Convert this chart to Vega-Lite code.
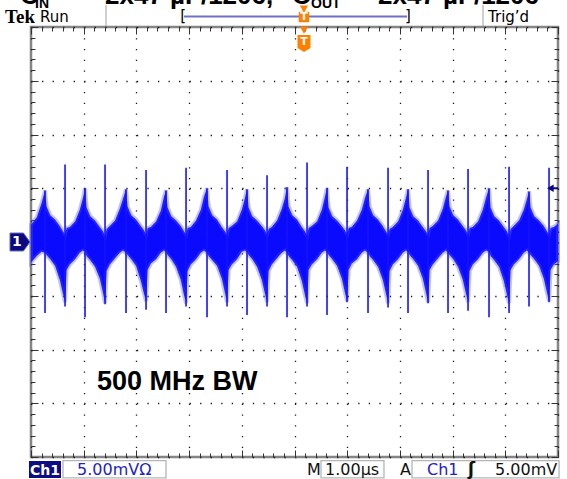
{
"$schema": "https://vega.github.io/schema/vega-lite/v6.json",
"width": 527, "height": 430,
"autosize": "none",
"padding": {"left": 31, "top": 27, "right": 9, "bottom": 22},
"background": "white",
"config": {"view": {"stroke": "#858585", "strokeWidth": 2.5}, "axis": {"title": null, "labels": false, "domain": false}},
"resolve": {"axis": {"x": "independent", "y": "independent"}},
"layer": [
{
"data": {"values": [
{"t":0,"h":1.6,"l":-1.9},{"t":0.11,"h":2.3,"l":-1.3},{"t":0.2,"h":3.6,"l":-0.9},
{"t":0.266,"h":4.8,"l":-1.0},{"t":0.296,"h":3.3,"l":-1.2},{"t":0.366,"h":2.5,"l":-1.6},{"t":0.456,"h":2.1,"l":-2.2},{"t":0.546,"h":1.5,"l":-3.5},{"t":0.606,"h":1.0,"l":-4.8},{"t":0.646,"h":0.7,"l":-5.6},{"t":0.676,"h":1.3,"l":-2.6},{"t":0.736,"h":1.4,"l":-2.1},{"t":0.836,"h":1.9,"l":-1.6},{"t":0.926,"h":3.0,"l":-1.0},{"t":0.986,"h":4.1,"l":-0.8},
{"t":1.025,"h":5.0,"l":-0.9},{"t":1.055,"h":3.2,"l":-1.3},{"t":1.125,"h":2.4,"l":-1.7},{"t":1.215,"h":2.0,"l":-2.3},{"t":1.305,"h":1.4,"l":-3.4},{"t":1.365,"h":1.0,"l":-4.7},{"t":1.405,"h":0.6,"l":-5.7},{"t":1.435,"h":1.2,"l":-2.7},{"t":1.495,"h":1.5,"l":-2.1},{"t":1.595,"h":2.0,"l":-1.5},{"t":1.685,"h":3.1,"l":-1.0},{"t":1.745,"h":4.0,"l":-0.8},
{"t":1.803,"h":4.9,"l":-1.0},{"t":1.833,"h":3.3,"l":-1.2},{"t":1.903,"h":2.5,"l":-1.6},{"t":1.993,"h":2.1,"l":-2.2},{"t":2.083,"h":1.5,"l":-3.6},{"t":2.143,"h":1.1,"l":-4.8},{"t":2.183,"h":0.7,"l":-5.5},{"t":2.213,"h":1.3,"l":-2.6},{"t":2.273,"h":1.4,"l":-2.0},{"t":2.373,"h":1.9,"l":-1.6},{"t":2.463,"h":2.9,"l":-1.0},{"t":2.523,"h":4.2,"l":-0.8},
{"t":2.562,"h":4.8,"l":-0.9},{"t":2.592,"h":3.2,"l":-1.2},{"t":2.662,"h":2.4,"l":-1.6},{"t":2.752,"h":2.0,"l":-2.3},{"t":2.842,"h":1.5,"l":-3.5},{"t":2.902,"h":1.0,"l":-4.9},{"t":2.942,"h":0.7,"l":-5.7},{"t":2.972,"h":1.3,"l":-2.7},{"t":3.032,"h":1.4,"l":-2.1},{"t":3.132,"h":2.0,"l":-1.6},{"t":3.222,"h":3.0,"l":-1.0},{"t":3.282,"h":4.2,"l":-0.8},
{"t":3.34,"h":5.0,"l":-1.0},{"t":3.37,"h":3.3,"l":-1.3},{"t":3.44,"h":2.5,"l":-1.7},{"t":3.53,"h":2.1,"l":-2.2},{"t":3.62,"h":1.4,"l":-3.4},{"t":3.68,"h":1.0,"l":-4.7},{"t":3.72,"h":0.7,"l":-5.6},{"t":3.75,"h":1.3,"l":-2.6},{"t":3.81,"h":1.5,"l":-2.1},{"t":3.91,"h":1.9,"l":-1.6},{"t":4.0,"h":3.0,"l":-0.9},{"t":4.06,"h":4.1,"l":-0.8},
{"t":4.099,"h":4.9,"l":-0.9},{"t":4.129,"h":3.2,"l":-1.2},{"t":4.199,"h":2.4,"l":-1.6},{"t":4.289,"h":2.0,"l":-2.3},{"t":4.379,"h":1.5,"l":-3.5},{"t":4.439,"h":1.1,"l":-4.8},{"t":4.479,"h":0.7,"l":-5.6},{"t":4.509,"h":1.2,"l":-2.7},{"t":4.569,"h":1.4,"l":-2.1},{"t":4.669,"h":2.0,"l":-1.5},{"t":4.759,"h":3.1,"l":-1.0},{"t":4.819,"h":4.1,"l":-0.8},
{"t":4.858,"h":5.1,"l":-1.0},{"t":4.888,"h":3.3,"l":-1.3},{"t":4.958,"h":2.5,"l":-1.7},{"t":5.048,"h":2.1,"l":-2.3},{"t":5.138,"h":1.4,"l":-3.6},{"t":5.198,"h":1.0,"l":-4.9},{"t":5.238,"h":0.6,"l":-5.7},{"t":5.268,"h":1.3,"l":-2.6},{"t":5.328,"h":1.5,"l":-2.1},{"t":5.428,"h":1.9,"l":-1.6},{"t":5.518,"h":3.0,"l":-1.0},{"t":5.578,"h":4.2,"l":-0.8},
{"t":5.617,"h":5.0,"l":-0.9},{"t":5.647,"h":3.2,"l":-1.2},{"t":5.717,"h":2.4,"l":-1.6},{"t":5.807,"h":2.0,"l":-2.2},{"t":5.897,"h":1.5,"l":-3.4},{"t":5.957,"h":1.1,"l":-4.7},{"t":5.997,"h":0.7,"l":-5.5},{"t":6.027,"h":1.3,"l":-2.6},{"t":6.087,"h":1.4,"l":-2.0},{"t":6.187,"h":2.0,"l":-1.6},{"t":6.277,"h":3.0,"l":-1.0},{"t":6.337,"h":4.1,"l":-0.8},
{"t":6.395,"h":4.9,"l":-1.0},{"t":6.425,"h":3.3,"l":-1.3},{"t":6.495,"h":2.5,"l":-1.7},{"t":6.585,"h":2.1,"l":-2.3},{"t":6.675,"h":1.5,"l":-3.5},{"t":6.735,"h":1.0,"l":-4.8},{"t":6.775,"h":0.7,"l":-5.7},{"t":6.805,"h":1.2,"l":-2.7},{"t":6.865,"h":1.4,"l":-2.1},{"t":6.965,"h":1.9,"l":-1.6},{"t":7.055,"h":3.0,"l":-1.0},{"t":7.115,"h":4.1,"l":-0.8},
{"t":7.154,"h":4.9,"l":-0.9},{"t":7.184,"h":3.2,"l":-1.2},{"t":7.254,"h":2.4,"l":-1.6},{"t":7.344,"h":2.0,"l":-2.2},{"t":7.434,"h":1.4,"l":-3.4},{"t":7.494,"h":1.0,"l":-4.7},{"t":7.534,"h":0.7,"l":-5.6},{"t":7.564,"h":1.3,"l":-2.6},{"t":7.624,"h":1.5,"l":-2.1},{"t":7.724,"h":2.0,"l":-1.5},{"t":7.814,"h":3.1,"l":-1.0},{"t":7.874,"h":4.2,"l":-0.8},
{"t":7.913,"h":4.8,"l":-1.0},{"t":7.943,"h":3.3,"l":-1.2},{"t":8.013,"h":2.5,"l":-1.6},{"t":8.103,"h":2.1,"l":-2.3},{"t":8.193,"h":1.5,"l":-3.5},{"t":8.253,"h":1.1,"l":-4.8},{"t":8.293,"h":0.7,"l":-5.6},{"t":8.323,"h":1.3,"l":-2.7},{"t":8.383,"h":1.4,"l":-2.1},{"t":8.483,"h":1.9,"l":-1.6},{"t":8.573,"h":3.0,"l":-1.0},{"t":8.633,"h":4.1,"l":-0.8},
{"t":8.691,"h":5.0,"l":-0.9},{"t":8.721,"h":3.2,"l":-1.3},{"t":8.791,"h":2.4,"l":-1.7},{"t":8.881,"h":2.0,"l":-2.3},{"t":8.971,"h":1.4,"l":-3.6},{"t":9.031,"h":1.0,"l":-4.9},{"t":9.071,"h":0.6,"l":-5.7},{"t":9.101,"h":1.2,"l":-2.6},{"t":9.161,"h":1.5,"l":-2.1},{"t":9.261,"h":2.0,"l":-1.6},{"t":9.351,"h":3.0,"l":-1.0},{"t":9.411,"h":4.0,"l":-0.8},
{"t":9.45,"h":4.7,"l":-1.0},{"t":9.48,"h":3.2,"l":-1.2},{"t":9.55,"h":2.4,"l":-1.6},{"t":9.64,"h":2.0,"l":-2.2},{"t":9.73,"h":1.5,"l":-3.4},{"t":9.79,"h":1.0,"l":-4.7},{"t":9.83,"h":0.7,"l":-5.5},{"t":9.86,"h":1.3,"l":-2.6},{"t":9.92,"h":1.4,"l":-2.1},{"t":10.0,"h":1.7,"l":-1.8}
]},
"mark": {"type": "area", "fill": "#0a0aff", "stroke": "#5050ff", "strokeWidth": 4, "strokeOpacity": 0.35},
"encoding": {
"x": {"field": "t", "type": "quantitative", "scale": {"domain": [0, 10], "nice": false}, "axis": {"orient": "bottom", "values": [0,1,2,3,4,5,6,7,8,9,10], "grid": true, "gridDash": [1.3, 9.45], "gridColor": "#1a1a1a", "gridWidth": 1.3, "gridOpacity": 1, "ticks": false, "labels": false, "domain": false, "title": null}},
"y": {"field": "h", "type": "quantitative", "scale": {"domain": [-20, 20], "nice": false}, "axis": {"orient": "left", "values": [-20,-15,-10,-5,0,5,10,15,20], "grid": true, "gridDash": [1.3, 9.24], "gridColor": "#1a1a1a", "gridWidth": 1.3, "gridOpacity": 1, "ticks": false, "labels": false, "domain": false, "title": null}},
"y2": {"field": "l"}
}
},
{
"data": {"values": [
{"t":0.266,"v":4.8,"w":-6.6},{"t":1.025,"v":5.0,"w":-7.0},{"t":1.803,"v":4.9,"w":-6.6},{"t":2.562,"v":4.8,"w":-6.6},{"t":3.34,"v":5.0,"w":-7.0},{"t":4.099,"v":4.9,"w":-6.8},{"t":4.858,"v":5.1,"w":-7.0},{"t":5.617,"v":5.0,"w":-6.8},{"t":6.395,"v":4.9,"w":-6.6},{"t":7.154,"v":4.9,"w":-6.6},{"t":7.913,"v":4.8,"w":-6.6},{"t":8.691,"v":5.0,"w":-7.0},{"t":9.45,"v":4.7,"w":-6.0},
{"t":0.646,"v":7.2,"w":-6.0},{"t":1.405,"v":7.2,"w":-5.8},{"t":2.183,"v":6.7,"w":-6.3},{"t":2.942,"v":6.9,"w":-6.0},{"t":3.72,"v":6.7,"w":-6.0},{"t":4.479,"v":6.2,"w":-6.0},{"t":5.238,"v":7.4,"w":-6.0},{"t":5.997,"v":7.0,"w":-5.6},{"t":6.775,"v":6.9,"w":-6.1},{"t":7.534,"v":6.7,"w":-5.7},{"t":8.293,"v":6.8,"w":-6.4},{"t":9.071,"v":7.0,"w":-6.6},{"t":9.83,"v":6.9,"w":-5.6}
]},
"mark": {"type": "rule", "color": "#1414ff", "strokeWidth": 1.6},
"encoding": {
"x": {"field": "t", "type": "quantitative", "scale": {"domain": [0, 10], "nice": false}, "axis": {"orient": "top", "tickCount": 50, "offset": -4, "tickSize": 4, "tickColor": "#333", "tickWidth": 1, "grid": false, "labels": false, "domain": false, "title": null}},
"y": {"field": "v", "type": "quantitative", "scale": {"domain": [-20, 20], "nice": false}, "axis": {"orient": "right", "tickCount": 40, "offset": -4, "tickSize": 4, "tickColor": "#333", "tickWidth": 1, "grid": false, "labels": false, "domain": false, "title": null}},
"y2": {"field": "w"}
}
},
{
"data": {"values": [{"t":-0.209,"v":22.15,"s":"C"},{"t":1.404,"v":22.15,"s":"2x47 µF/1206,"},{"t":4.953,"v":22.15,"s":"C"},{"t":6.584,"v":22.15,"s":"2x47 µF/1206"}]},
"mark": {"type": "text", "align": "left", "baseline": "alphabetic", "font": "Liberation Sans", "fontWeight": "bold", "fontSize": 26, "color": "#000"},
"encoding": {
"x": {"field": "t", "type": "quantitative", "scale": {"domain": [0, 10], "nice": false}, "axis": {"orient": "bottom", "tickCount": 50, "offset": -4, "tickSize": 4, "tickColor": "#333", "tickWidth": 1, "grid": false, "labels": false, "domain": false, "title": null}},
"y": {"field": "v", "type": "quantitative", "scale": {"domain": [-20, 20], "nice": false}, "axis": {"orient": "left", "tickCount": 40, "offset": -4, "tickSize": 4, "tickColor": "#333", "tickWidth": 1, "grid": false, "labels": false, "domain": false, "title": null}},
"text": {"field": "s"}
}
},
{
"data": {"values": [{"t":0.076,"v":21.75,"s":"IN"},{"t":5.313,"v":21.75,"s":"OUT"}]},
"mark": {"type": "text", "align": "left", "baseline": "alphabetic", "font": "Liberation Sans", "fontWeight": "bold", "fontSize": 14, "color": "#000"},
"encoding": {
"x": {"field": "t", "type": "quantitative", "scale": {"domain": [0, 10], "nice": false}, "axis": {"orient": "top", "tickCount": 10, "offset": -7, "tickSize": 7, "tickColor": "#333", "tickWidth": 1, "grid": false, "labels": false, "domain": false, "title": null}},
"y": {"field": "v", "type": "quantitative", "scale": {"domain": [-20, 20], "nice": false}, "axis": {"orient": "right", "tickCount": 8, "offset": -7, "tickSize": 7, "tickColor": "#333", "tickWidth": 1, "grid": false, "labels": false, "domain": false, "title": null}},
"text": {"field": "s"}
}
},
{
"data": {"values": [{"t":-0.493,"v":20.37,"s":"Tek"}]},
"mark": {"type": "text", "align": "left", "baseline": "alphabetic", "font": "Liberation Serif", "fontWeight": "bold", "fontSize": 19, "color": "#000"},
"encoding": {
"x": {"field": "t", "type": "quantitative", "scale": {"domain": [0, 10], "nice": false}, "axis": {"orient": "bottom", "tickCount": 10, "offset": -7, "tickSize": 7, "tickColor": "#333", "tickWidth": 1, "grid": false, "labels": false, "domain": false, "title": null}},
"y": {"field": "v", "type": "quantitative", "scale": {"domain": [-20, 20], "nice": false}, "axis": {"orient": "left", "tickCount": 8, "offset": -7, "tickSize": 7, "tickColor": "#333", "tickWidth": 1, "grid": false, "labels": false, "domain": false, "title": null}},
"text": {"field": "s"}
}
},
{
"data": {"values": [{"t":0.171,"v":20.47,"s":"Run"},{"t":8.672,"v":20.47,"s":"Trig’d"}]},
"mark": {"type": "text", "align": "left", "baseline": "alphabetic", "font": "DejaVu Sans", "fontSize": 15, "color": "#000"},
"encoding": {
"x": {"field": "t", "type": "quantitative", "scale": {"domain": [0, 10], "nice": false}, "axis": null},
"y": {"field": "v", "type": "quantitative", "scale": {"domain": [-20, 20], "nice": false}, "axis": null},
"text": {"field": "s"}
}
},
{
"data": {"values": [{"t":1.423,"v":22.05,"w":20.09},{"t":8.577,"v":22.05,"w":20.09}]},
"mark": {"type": "rule", "color": "#a0a0a0", "strokeWidth": 1},
"encoding": {
"x": {"field": "t", "type": "quantitative", "scale": {"domain": [0, 10], "nice": false}, "axis": null},
"y": {"field": "v", "type": "quantitative", "scale": {"domain": [-20, 20], "nice": false}, "axis": null},
"y2": {"field": "w"}
}
},
{
"data": {"values": [{"t":2.903,"u":7.135,"v":20.98}]},
"mark": {"type": "rule", "color": "#7070c8", "strokeWidth": 2},
"encoding": {
"x": {"field": "t", "type": "quantitative", "scale": {"domain": [0, 10], "nice": false}, "axis": null},
"x2": {"field": "u"},
"y": {"field": "v", "type": "quantitative", "scale": {"domain": [-20, 20], "nice": false}, "axis": null}
}
},
{
"data": {"values": [{"t":2.83,"v":20.56,"s":"["},{"t":7.097,"v":20.56,"s":"]"}]},
"mark": {"type": "text", "align": "left", "baseline": "alphabetic", "font": "DejaVu Sans", "fontSize": 15, "color": "#000"},
"encoding": {
"x": {"field": "t", "type": "quantitative", "scale": {"domain": [0, 10], "nice": false}, "axis": null},
"y": {"field": "v", "type": "quantitative", "scale": {"domain": [-20, 20], "nice": false}, "axis": null},
"text": {"field": "s"}
}
},
{
"data": {"values": [{"t":5.18,"v":21.67},{"t":5.18,"v":19.72}]},
"mark": {"type": "point", "shape": "triangle-down", "filled": true, "color": "#ff8000", "size": 70, "opacity": 1},
"encoding": {
"x": {"field": "t", "type": "quantitative", "scale": {"domain": [0, 10], "nice": false}, "axis": null},
"y": {"field": "v", "type": "quantitative", "scale": {"domain": [-20, 20], "nice": false}, "axis": null}
}
},
{
"data": {"values": [{"t":5.18,"v":18.47}]},
"mark": {"type": "point", "shape": "M-1,-1.3 L1,-1.3 L1,0.7 L0,1.3 L-1,0.7 Z", "filled": true, "color": "#ff8000", "size": 169, "opacity": 1},
"encoding": {
"x": {"field": "t", "type": "quantitative", "scale": {"domain": [0, 10], "nice": false}, "axis": null},
"y": {"field": "v", "type": "quantitative", "scale": {"domain": [-20, 20], "nice": false}, "axis": null}
}
},
{
"data": {"values": [{"t":5.18,"v":20.93}]},
"mark": {"type": "point", "shape": "square", "filled": true, "color": "#ff8000", "size": 110, "opacity": 1},
"encoding": {
"x": {"field": "t", "type": "quantitative", "scale": {"domain": [0, 10], "nice": false}, "axis": null},
"y": {"field": "v", "type": "quantitative", "scale": {"domain": [-20, 20], "nice": false}, "axis": null}
}
},
{
"data": {"values": [{"t":5.18,"v":18.6,"s":"T"},{"t":5.18,"v":20.93,"s":"T"}]},
"mark": {"type": "text", "align": "center", "baseline": "middle", "font": "DejaVu Sans", "fontWeight": "bold", "fontSize": 11, "color": "#ffffff"},
"encoding": {
"x": {"field": "t", "type": "quantitative", "scale": {"domain": [0, 10], "nice": false}, "axis": null},
"y": {"field": "v", "type": "quantitative", "scale": {"domain": [-20, 20], "nice": false}, "axis": null},
"text": {"field": "s"}
}
},
{
"data": {"values": [{"t":-0.038,"u":0.569,"v":-20.37,"w":-21.95}]},
"mark": {"type": "rect", "color": "#0c0c84"},
"encoding": {
"x": {"field": "t", "type": "quantitative", "scale": {"domain": [0, 10], "nice": false}, "axis": null},
"x2": {"field": "u"},
"y": {"field": "v", "type": "quantitative", "scale": {"domain": [-20, 20], "nice": false}, "axis": null},
"y2": {"field": "w"}
}
},
{
"data": {"values": [{"t":0.607,"u":2.562,"v":-20.33,"w":-21.95},{"t":5.503,"u":6.698,"v":-20.33,"w":-21.95},{"t":7.23,"u":10.02,"v":-20.33,"w":-21.95}]},
"mark": {"type": "rect", "filled": false, "stroke": "#b5b5b5", "strokeWidth": 1.3},
"encoding": {
"x": {"field": "t", "type": "quantitative", "scale": {"domain": [0, 10], "nice": false}, "axis": null},
"x2": {"field": "u"},
"y": {"field": "v", "type": "quantitative", "scale": {"domain": [-20, 20], "nice": false}, "axis": null},
"y2": {"field": "w"}
}
},
{
"data": {"values": [{"t":-0.019,"v":-21.72,"s":"Ch1"}]},
"mark": {"type": "text", "align": "left", "baseline": "alphabetic", "font": "DejaVu Sans", "fontWeight": "bold", "fontSize": 14, "color": "#ffffff"},
"encoding": {
"x": {"field": "t", "type": "quantitative", "scale": {"domain": [0, 10], "nice": false}, "axis": null},
"y": {"field": "v", "type": "quantitative", "scale": {"domain": [-20, 20], "nice": false}, "axis": null},
"text": {"field": "s"}
}
},
{
"data": {"values": [{"t":0.873,"v":-21.72,"s":"5.00mVΩ"},{"t":7.514,"v":-21.72,"s":"Ch1"}]},
"mark": {"type": "text", "align": "left", "baseline": "alphabetic", "font": "DejaVu Sans", "fontSize": 16, "color": "#2323c4"},
"encoding": {
"x": {"field": "t", "type": "quantitative", "scale": {"domain": [0, 10], "nice": false}, "axis": null},
"y": {"field": "v", "type": "quantitative", "scale": {"domain": [-20, 20], "nice": false}, "axis": null},
"text": {"field": "s"}
}
},
{
"data": {"values": [{"t":5.237,"v":-21.72,"s":"M"},{"t":5.579,"v":-21.72,"s":"1.00µs"},{"t":7.002,"v":-21.72,"s":"A"},{"t":8.805,"v":-21.72,"s":"5.00mV"}]},
"mark": {"type": "text", "align": "left", "baseline": "alphabetic", "font": "DejaVu Sans", "fontSize": 16, "color": "#111111"},
"encoding": {
"x": {"field": "t", "type": "quantitative", "scale": {"domain": [0, 10], "nice": false}, "axis": null},
"y": {"field": "v", "type": "quantitative", "scale": {"domain": [-20, 20], "nice": false}, "axis": null},
"text": {"field": "s"}
}
},
{
"data": {"values": [{"t":8.292,"v":-21.72,"s":"ʃ"}]},
"mark": {"type": "text", "align": "left", "baseline": "alphabetic", "font": "DejaVu Sans", "fontWeight": "bold", "fontSize": 17, "color": "#111111"},
"encoding": {
"x": {"field": "t", "type": "quantitative", "scale": {"domain": [0, 10], "nice": false}, "axis": null},
"y": {"field": "v", "type": "quantitative", "scale": {"domain": [-20, 20], "nice": false}, "axis": null},
"text": {"field": "s"}
}
},
{
"data": {"values": [{"t":1.252,"v":-13.77,"s":"500 MHz BW"}]},
"mark": {"type": "text", "align": "left", "baseline": "alphabetic", "font": "Liberation Sans", "fontWeight": "bold", "fontSize": 27, "color": "#000000"},
"encoding": {
"x": {"field": "t", "type": "quantitative", "scale": {"domain": [0, 10], "nice": false}, "axis": null},
"y": {"field": "v", "type": "quantitative", "scale": {"domain": [-20, 20], "nice": false}, "axis": null},
"text": {"field": "s"}
}
},
{
"data": {"values": [{"t":-0.209,"v":0}]},
"mark": {"type": "point", "shape": "M-1,-0.9 L0.35,-0.9 L1,0 L0.35,0.9 L-1,0.9 Z", "filled": true, "fill": "#0a0a80", "stroke": "#6a6ac0", "strokeWidth": 1, "size": 400, "opacity": 1},
"encoding": {
"x": {"field": "t", "type": "quantitative", "scale": {"domain": [0, 10], "nice": false}, "axis": null},
"y": {"field": "v", "type": "quantitative", "scale": {"domain": [-20, 20], "nice": false}, "axis": null}
}
},
{
"data": {"values": [{"t":-0.27,"v":0,"s":"1"}]},
"mark": {"type": "text", "align": "center", "baseline": "middle", "font": "DejaVu Sans", "fontWeight": "bold", "fontSize": 14, "color": "#ffffff"},
"encoding": {
"x": {"field": "t", "type": "quantitative", "scale": {"domain": [0, 10], "nice": false}, "axis": null},
"y": {"field": "v", "type": "quantitative", "scale": {"domain": [-20, 20], "nice": false}, "axis": null},
"text": {"field": "s"}
}
},
{
"data": {"values": [{"t":9.855,"v":5.0}]},
"mark": {"type": "point", "shape": "triangle-left", "filled": true, "color": "#0a0a80", "size": 60, "opacity": 1},
"encoding": {
"x": {"field": "t", "type": "quantitative", "scale": {"domain": [0, 10], "nice": false}, "axis": null},
"y": {"field": "v", "type": "quantitative", "scale": {"domain": [-20, 20], "nice": false}, "axis": null}
}
},
{
"data": {"values": [{"t":9.87,"u":10.0,"v":5.0}]},
"mark": {"type": "rule", "color": "#0a0a80", "strokeWidth": 2},
"encoding": {
"x": {"field": "t", "type": "quantitative", "scale": {"domain": [0, 10], "nice": false}, "axis": null},
"x2": {"field": "u"},
"y": {"field": "v", "type": "quantitative", "scale": {"domain": [-20, 20], "nice": false}, "axis": null}
}
}
]
}
